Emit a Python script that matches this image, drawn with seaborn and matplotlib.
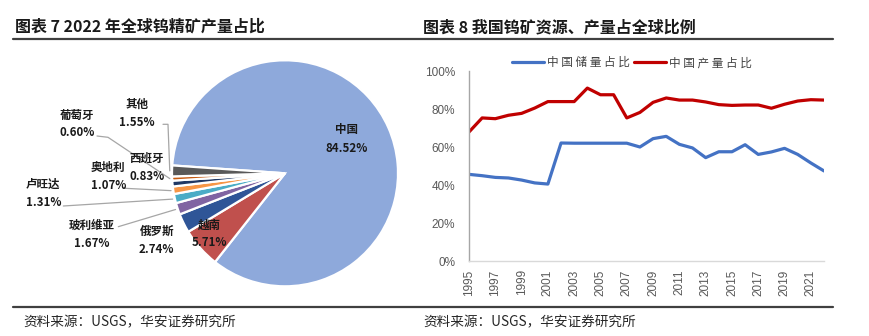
import numpy as np
import pandas as pd
import matplotlib
matplotlib.use("Agg")
import matplotlib.pyplot as plt
import seaborn as sns
from matplotlib.lines import Line2D

# ---------------- data ----------------
countries = ["中国", "越南", "俄罗斯", "玻利维亚", "卢旺达", "奥地利", "西班牙", "葡萄牙", "其他"]
shares = [84.52, 5.71, 2.74, 1.67, 1.31, 1.07, 0.83, 0.60, 1.55]
pie_colors = ["#8EA9DB", "#C0504D", "#2F5597", "#8064A2", "#4BACC6",
              "#F79646", "#203864", "#C55A11", "#595959"]

years = list(range(1995, 2023))
reserve_share = [45.6, 44.9, 44.0, 43.7, 42.6, 41.1, 40.5, 62.1, 62.0, 62.0,
                 62.0, 62.0, 62.0, 60.0, 64.4, 65.6, 61.4, 59.5, 54.4, 57.5,
                 57.5, 61.2, 56.1, 57.4, 59.3, 56.1, 51.6, 47.4]
production_share = [67.9, 75.3, 74.9, 76.7, 77.7, 80.5, 83.9, 83.9, 83.9, 91.0,
                     87.5, 87.5, 75.3, 78.2, 83.5, 85.8, 84.7, 84.7, 83.7, 82.3,
                     81.9, 82.1, 82.1, 80.4, 82.5, 84.2, 84.9, 84.7]
series_names = ["中国储量占比", "中国产量占比"]
line_colors = ["#4472C4", "#C00000"]
xtick_years = list(range(1995, 2022, 2))
ytick_vals = [0, 20, 40, 60, 80, 100]

title_left = "图表 7 2022 年全球钨精矿产量占比"
title_right = "图表 8 我国钨矿资源、产量占全球比例"
source_text = "资料来源：USGS，华安证券研究所"

# ---------------- style ----------------
sns.set_theme(style="white")
plt.rcParams["font.family"] = ["Noto Sans CJK SC", "DejaVu Sans"]

W, H = 869, 336
fig = plt.figure(figsize=(W / 100, H / 100), dpi=100)
fig.patch.set_facecolor("white")


def fx(px):
    return px / W


def fy(py):
    return 1 - py / H


# titles, rules, footers
fig.text(fx(15), fy(27), title_left, fontsize=11.5, fontweight="bold",
         color="#1a1a1a", va="center", ha="left")
fig.text(fx(423), fy(27), title_right, fontsize=11.5, fontweight="bold",
         color="#1a1a1a", va="center", ha="left")
for yy in (39, 307):
    fig.add_artist(Line2D([fx(13), fx(833)], [fy(yy), fy(yy)], color="#404040",
                          lw=1.6, transform=fig.transFigure))
fig.text(fx(23), fy(322), source_text, fontsize=9.8, color="#262626", va="center", ha="left")
fig.text(fx(423), fy(322), source_text, fontsize=9.8, color="#262626", va="center", ha="left")

# ---------------- pie ----------------
cx, cy, R = 285, 173.3, 113
axp = fig.add_axes([fx(cx - R), fy(cy + R), 2 * R / W, 2 * R / H])
wedges, _ = axp.pie(shares, colors=pie_colors, startangle=176, counterclock=False,
                    radius=1, wedgeprops=dict(edgecolor="white", linewidth=1.6))
axp.set_xlim(-1, 1)
axp.set_ylim(-1, 1)
axp.axis("off")


def pd_(px, py):
    return ((px - cx) / R, (cy - py) / R)


label_pos = {
    "中国": (346.7, 130, 148.3),
    "越南": (209, 225, 243),
    "俄罗斯": (156.7, 231.7, 249.3),
    "玻利维亚": (91.7, 225, 243.3),
    "卢旺达": (43.3, 184, 202.7),
    "奥地利": (108.3, 167.3, 185.3),
    "西班牙": (146.7, 158.3, 176.7),
    "葡萄牙": (76.7, 115, 132.7),
    "其他": (136.7, 104, 122.7),
}
for name, val in zip(countries, shares):
    x, y1, y2 = label_pos[name]
    for txt, yy in ((name, y1), (f"{val:.2f}%", y2)):
        axp.text(*pd_(x, yy), txt, fontsize=8.3, fontweight="bold", color="#1a1a1a",
                 ha="center", va="center", clip_on=False)

# leader lines (from label to wedge mid-angle point)
cum = np.concatenate([[0], np.cumsum(shares)])
mid_angle = {n: np.deg2rad(176 - 360 * (cum[i] + shares[i] / 2) / 100)
             for i, n in enumerate(countries)}
leaders = {
    "其他": [(163, 124.3), (168, 124.3)],
    "葡萄牙": [(97, 136), (108, 137.3)],
    "奥地利": [(125, 188.3)],
    "卢旺达": [(63.3, 206)],
    "玻利维亚": [(118.3, 226.7)],
}
for name, pts in leaders.items():
    xs = [pd_(*p)[0] for p in pts]
    ys = [pd_(*p)[1] for p in pts]
    a = mid_angle[name]
    xs.append(1.02 * np.cos(a))
    ys.append(1.02 * np.sin(a))
    axp.plot(xs, ys, color="#A6A6A6", lw=0.9, clip_on=False)

# ---------------- line chart ----------------
df = pd.DataFrame({
    "year": years * 2,
    "value": reserve_share + production_share,
    "series": [series_names[0]] * len(years) + [series_names[1]] * len(years),
})
axl = fig.add_axes([fx(469), fy(261), (824 - 469) / W, (261 - 71) / H])
sns.lineplot(data=df, x="year", y="value", hue="series", hue_order=series_names,
             palette=line_colors, linewidth=2.3, ax=axl, legend=False)
axl.set_xlim(1995, 2022)
axl.set_ylim(0, 100)
axl.set_yticks(ytick_vals)
axl.set_yticklabels([f"{v}%" for v in ytick_vals], fontsize=8.5, color="#595959",
                    family=["Liberation Sans", "DejaVu Sans"])
axl.set_xticks(xtick_years)
axl.set_xticklabels([str(y) for y in xtick_years], rotation=90, fontsize=8.5,
                    color="#595959", family=["Liberation Sans", "DejaVu Sans"])
axl.set_xlabel("")
axl.set_ylabel("")
for s in ("top", "right"):
    axl.spines[s].set_visible(False)
axl.spines["left"].set_color("#A6A6A6")
axl.spines["bottom"].set_color("#D9D9D9")
axl.spines["left"].set_linewidth(1.0)
axl.spines["bottom"].set_linewidth(1.0)
axl.tick_params(axis="x", direction="out", length=4, width=0.8, color="#D9D9D9", pad=2)
axl.tick_params(axis="y", direction="out", length=3, width=0.8, color="#A6A6A6", pad=7)
axl.grid(False)

handles = [Line2D([], [], color=c, lw=2.3) for c in line_colors]
spaced = [" ".join(list(n)) for n in series_names]
fig.legend(handles, spaced, loc="center", bbox_to_anchor=(fx(632), fy(62.7)),
           ncol=2, frameon=False, fontsize=8.4, handlelength=2.8, handletextpad=0.25,
           columnspacing=0.3, labelcolor="#404040")

fig.savefig("out.png", dpi=100, facecolor="white")
